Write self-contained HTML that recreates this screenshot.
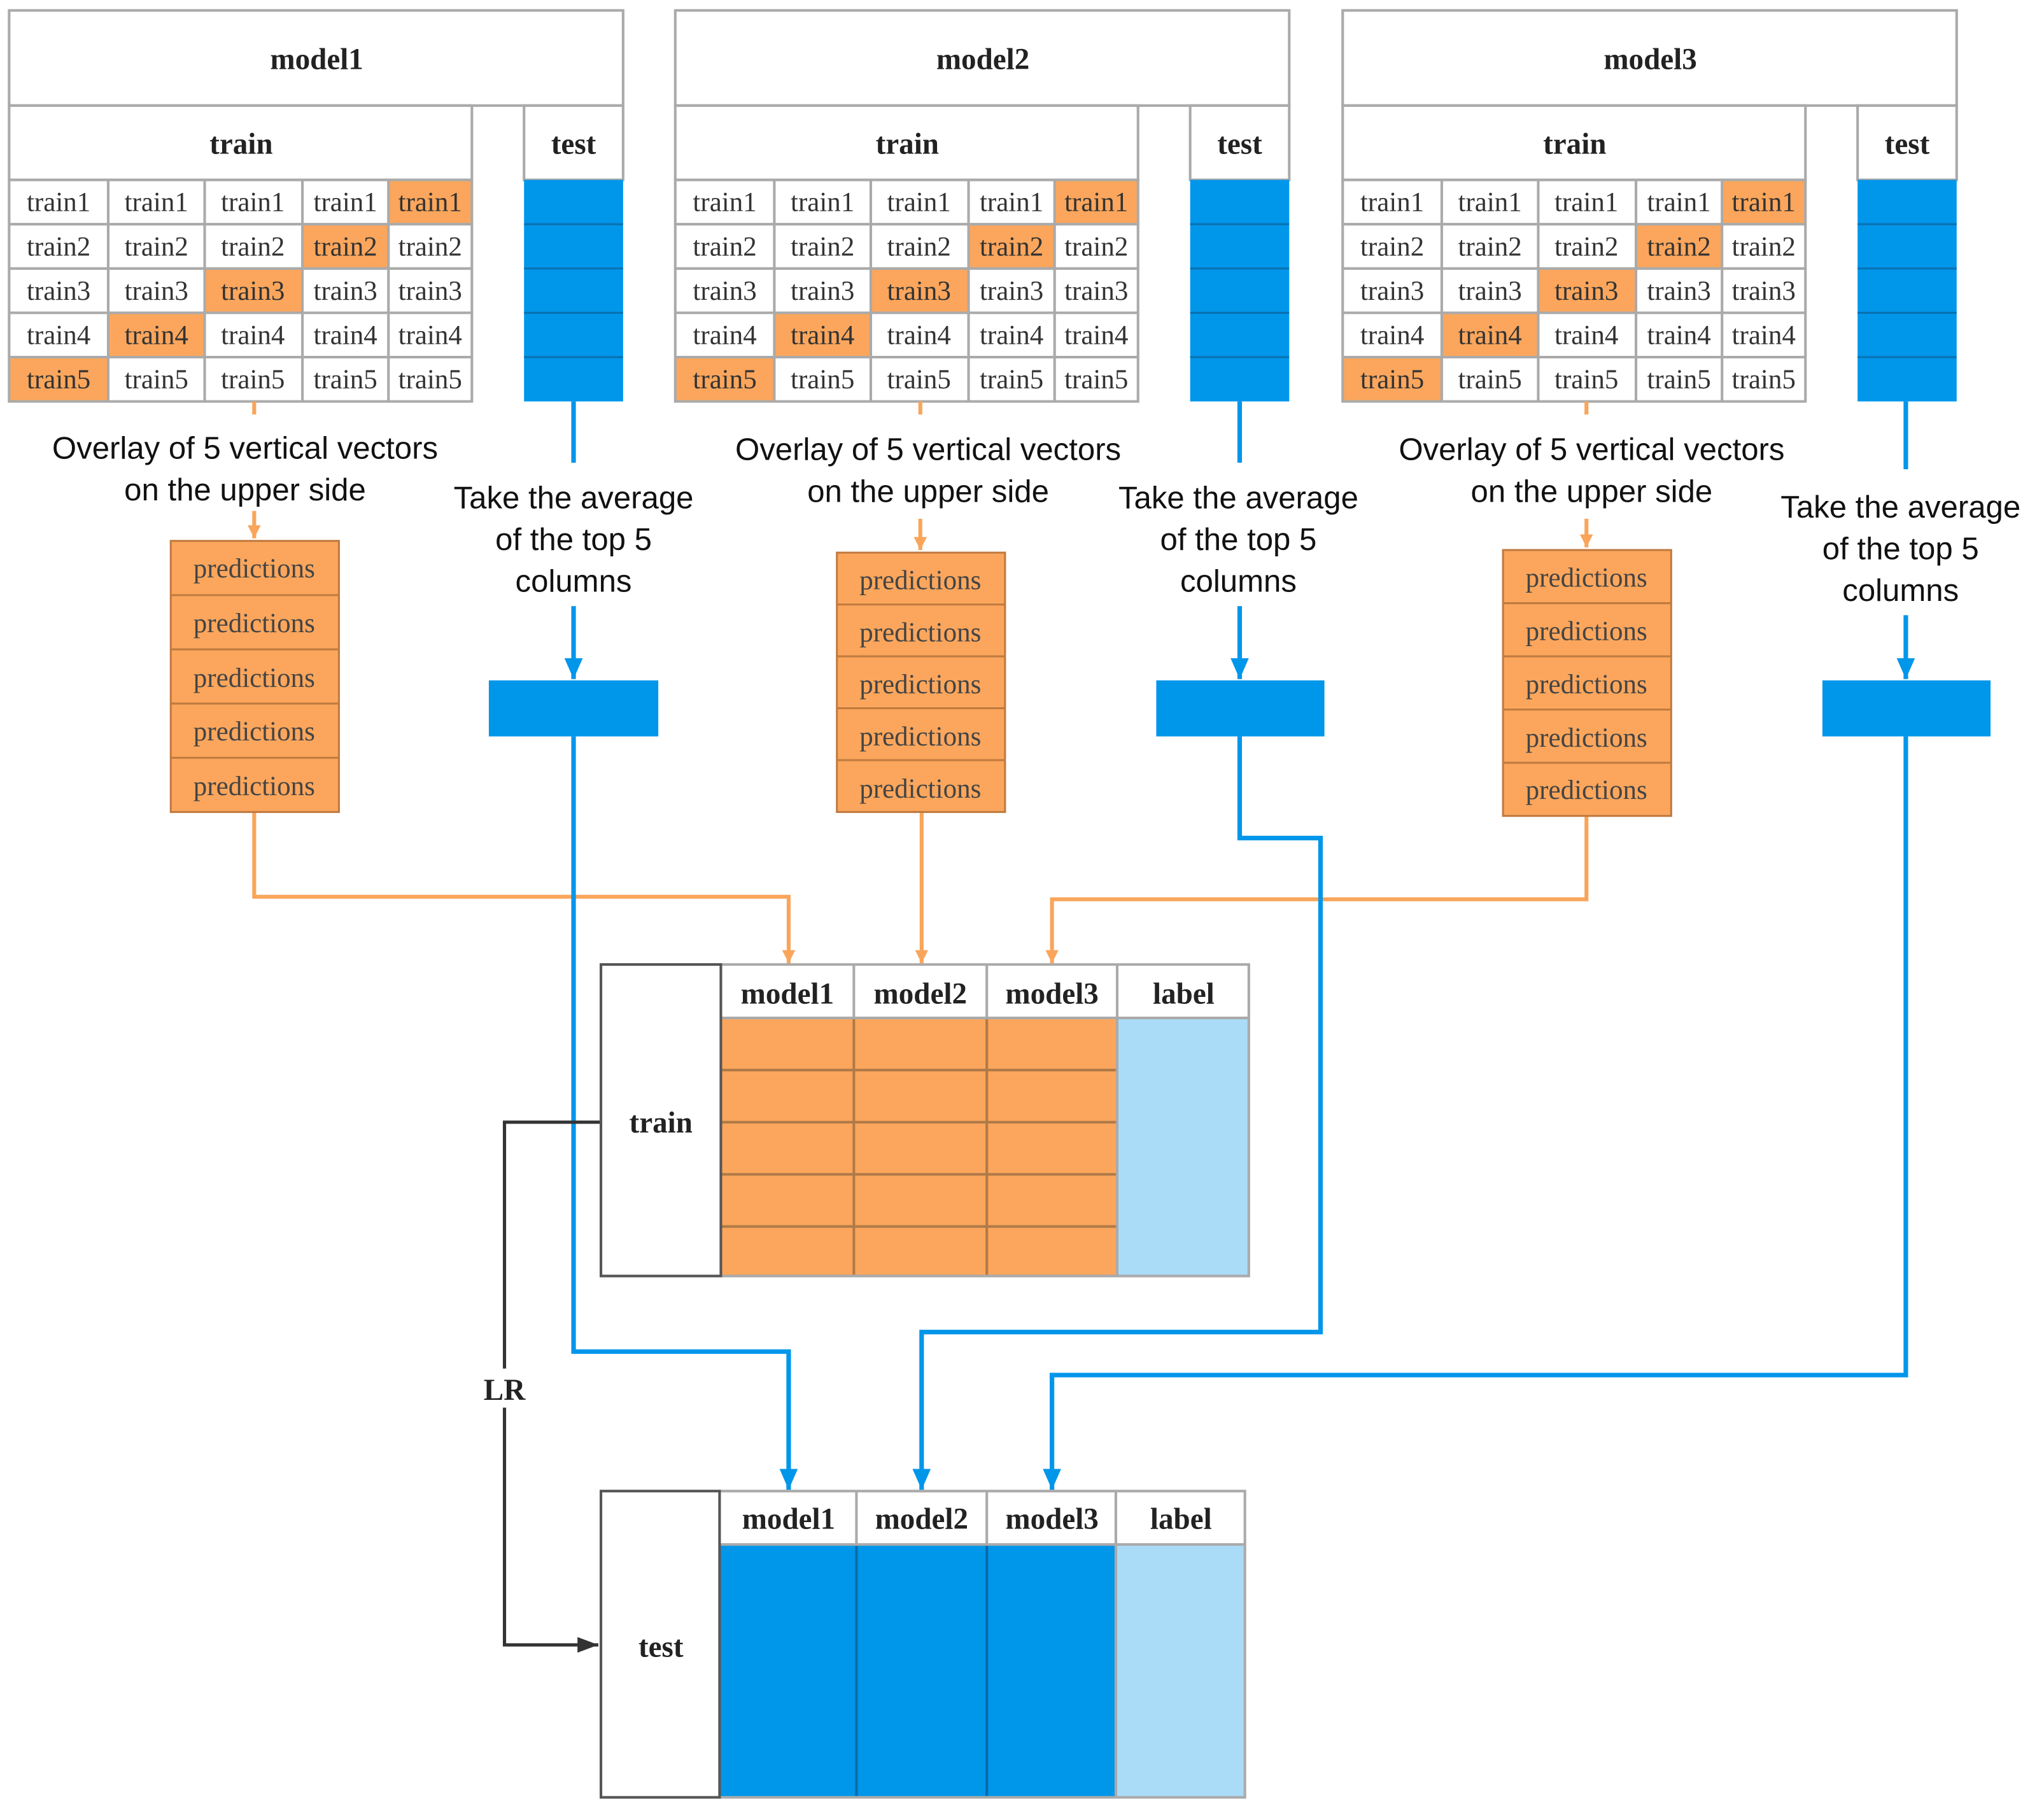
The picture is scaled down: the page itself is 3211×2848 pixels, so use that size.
<!DOCTYPE html>
<html><head><meta charset="utf-8"><style>
html,body{margin:0;padding:0;background:#fff;width:3211px;height:2848px;overflow:hidden}
svg{display:block}
.c{font-family:"Liberation Serif",serif;font-size:21px;fill:#333;text-anchor:middle}
.b{font-family:"Liberation Serif",serif;font-size:23px;font-weight:bold;fill:#222;text-anchor:middle}
.s{font-family:"Liberation Sans",sans-serif;font-size:24px;fill:#111;text-anchor:middle}
.p{font-family:"Liberation Serif",serif;font-size:21px;fill:#444;text-anchor:middle}
</style></head><body>
<svg width="3211" height="2848" viewBox="0 0 1568 1391" preserveAspectRatio="none" xmlns="http://www.w3.org/2000/svg">
<defs>
<marker id="ao" markerWidth="10" markerHeight="10" refX="10" refY="5" orient="auto" markerUnits="userSpaceOnUse" viewBox="0 0 10 10"><path d="M0,0 L10,5 L0,10z" fill="#f9a55b"/></marker>
<marker id="ab" markerWidth="16" markerHeight="14" refX="16" refY="7" orient="auto" markerUnits="userSpaceOnUse" viewBox="0 0 16 14"><path d="M0,0 L16,7 L0,14z" fill="#0096ea"/></marker>
<marker id="ak" markerWidth="16" markerHeight="12" refX="16" refY="6" orient="auto" markerUnits="userSpaceOnUse" viewBox="0 0 16 12"><path d="M0,0 L16,6 L0,12z" fill="#333"/></marker>
<g id="blk">
<rect x="7" y="8" width="471" height="73" fill="#fff" stroke="#aaa" stroke-width="2"/>
<rect x="7" y="81" width="355" height="57" fill="#fff" stroke="#aaa" stroke-width="2"/>
<rect x="402" y="81" width="76" height="57" fill="#fff" stroke="#aaa" stroke-width="2"/>
<rect x="402" y="138" width="76" height="170" fill="#0096ea"/>
<path d="M402,172H478M402,206H478M402,240H478M402,274H478" stroke="#0a70b0" stroke-width="1.5"/>
<rect x="298" y="138" width="64" height="34" fill="#fba65c"/>
<rect x="232" y="172" width="66" height="34" fill="#fba65c"/>
<rect x="157" y="206" width="75" height="34" fill="#fba65c"/>
<rect x="83" y="240" width="74" height="34" fill="#fba65c"/>
<rect x="7" y="274" width="76" height="34" fill="#fba65c"/>
<path d="M7,138H362V308H7Z M7,172H362M7,206H362M7,240H362M7,274H362M83,138V308M157,138V308M232,138V308M298,138V308" fill="none" stroke="#aaa" stroke-width="2"/>
</g>
</defs>

<g>
<use href="#blk"/>
<use href="#blk" transform="translate(511,0)"/>
<use href="#blk" transform="translate(1023,0)"/>
</g>
<g>
<text class="b" x="243" y="53">model1</text><text class="b" x="754" y="53">model2</text><text class="b" x="1266" y="53">model3</text>
<text class="b" x="185" y="118">train</text><text class="b" x="696" y="118">train</text><text class="b" x="1208" y="118">train</text>
<text class="b" x="440" y="118">test</text><text class="b" x="951" y="118">test</text><text class="b" x="1463" y="118">test</text>
</g>
<g class="c">
<text x="45" y="162">train1</text><text x="120" y="162">train1</text><text x="194" y="162">train1</text><text x="265" y="162">train1</text><text x="330" y="162">train1</text>
<text x="45" y="196">train2</text><text x="120" y="196">train2</text><text x="194" y="196">train2</text><text x="265" y="196">train2</text><text x="330" y="196">train2</text>
<text x="45" y="230">train3</text><text x="120" y="230">train3</text><text x="194" y="230">train3</text><text x="265" y="230">train3</text><text x="330" y="230">train3</text>
<text x="45" y="264">train4</text><text x="120" y="264">train4</text><text x="194" y="264">train4</text><text x="265" y="264">train4</text><text x="330" y="264">train4</text>
<text x="45" y="298">train5</text><text x="120" y="298">train5</text><text x="194" y="298">train5</text><text x="265" y="298">train5</text><text x="330" y="298">train5</text>
</g>
<g class="c" transform="translate(511,0)">
<text x="45" y="162">train1</text><text x="120" y="162">train1</text><text x="194" y="162">train1</text><text x="265" y="162">train1</text><text x="330" y="162">train1</text>
<text x="45" y="196">train2</text><text x="120" y="196">train2</text><text x="194" y="196">train2</text><text x="265" y="196">train2</text><text x="330" y="196">train2</text>
<text x="45" y="230">train3</text><text x="120" y="230">train3</text><text x="194" y="230">train3</text><text x="265" y="230">train3</text><text x="330" y="230">train3</text>
<text x="45" y="264">train4</text><text x="120" y="264">train4</text><text x="194" y="264">train4</text><text x="265" y="264">train4</text><text x="330" y="264">train4</text>
<text x="45" y="298">train5</text><text x="120" y="298">train5</text><text x="194" y="298">train5</text><text x="265" y="298">train5</text><text x="330" y="298">train5</text>
</g>
<g class="c" transform="translate(1023,0)">
<text x="45" y="162">train1</text><text x="120" y="162">train1</text><text x="194" y="162">train1</text><text x="265" y="162">train1</text><text x="330" y="162">train1</text>
<text x="45" y="196">train2</text><text x="120" y="196">train2</text><text x="194" y="196">train2</text><text x="265" y="196">train2</text><text x="330" y="196">train2</text>
<text x="45" y="230">train3</text><text x="120" y="230">train3</text><text x="194" y="230">train3</text><text x="265" y="230">train3</text><text x="330" y="230">train3</text>
<text x="45" y="264">train4</text><text x="120" y="264">train4</text><text x="194" y="264">train4</text><text x="265" y="264">train4</text><text x="330" y="264">train4</text>
<text x="45" y="298">train5</text><text x="120" y="298">train5</text><text x="194" y="298">train5</text><text x="265" y="298">train5</text><text x="330" y="298">train5</text>
</g>

<g class="s">
<text x="188" y="352">Overlay of 5 vertical vectors</text><text x="188" y="384">on the upper side</text>
<text x="712" y="353">Overlay of 5 vertical vectors</text><text x="712" y="385">on the upper side</text>
<text x="1221" y="353">Overlay of 5 vertical vectors</text><text x="1221" y="385">on the upper side</text>
<text x="440" y="390">Take the average</text><text x="440" y="422">of the top 5</text><text x="440" y="454">columns</text>
<text x="950" y="390">Take the average</text><text x="950" y="422">of the top 5</text><text x="950" y="454">columns</text>
<text x="1458" y="397">Take the average</text><text x="1458" y="429">of the top 5</text><text x="1458" y="461">columns</text>
</g>

<g stroke="#f9a55b" stroke-width="3" fill="none">
<path d="M195,308V318M706,308V318M1217,308V318"/>
<path d="M195,392V413" marker-end="url(#ao)"/>
<path d="M706,398V422" marker-end="url(#ao)"/>
<path d="M1217,398V420" marker-end="url(#ao)"/>
<path d="M195,623V688H605V739" marker-end="url(#ao)"/>
<path d="M707,623V739" marker-end="url(#ao)"/>
<path d="M1217,626V690H807V739" marker-end="url(#ao)"/>
</g>

<g stroke="#c07a40" stroke-width="1.5">
<rect x="131" y="415" width="129" height="208" fill="#fba65c"/>
<path d="M131,456.6H260M131,498.2H260M131,539.8H260M131,581.4H260"/>
<rect x="642" y="424" width="129" height="199" fill="#fba65c"/>
<path d="M642,463.8H771M642,503.6H771M642,543.4H771M642,583.2H771"/>
<rect x="1153" y="422" width="129" height="204" fill="#fba65c"/>
<path d="M1153,462.8H1282M1153,503.6H1282M1153,544.4H1282M1153,585.2H1282"/>
</g>
<g class="p">
<text x="195" y="443">predictions</text><text x="195" y="485">predictions</text><text x="195" y="527">predictions</text><text x="195" y="568">predictions</text><text x="195" y="610">predictions</text>
<text x="706" y="452">predictions</text><text x="706" y="492">predictions</text><text x="706" y="532">predictions</text><text x="706" y="572">predictions</text><text x="706" y="612">predictions</text>
<text x="1217" y="450">predictions</text><text x="1217" y="491">predictions</text><text x="1217" y="532">predictions</text><text x="1217" y="573">predictions</text><text x="1217" y="613">predictions</text>
</g>

<g stroke="#0096ea" stroke-width="3.5" fill="none">
<path d="M440,308V355M951,308V355M1462,308V360"/>
<path d="M440,465V521" marker-end="url(#ab)"/>
<path d="M951,465V521" marker-end="url(#ab)"/>
<path d="M1462,472V521" marker-end="url(#ab)"/>
<path d="M440,565V1037H605V1143" marker-end="url(#ab)"/>
<path d="M951,565V643H1013V1022H707V1143" marker-end="url(#ab)"/>
<path d="M1462,565V1055H807V1143" marker-end="url(#ab)"/>
</g>
<rect x="375" y="522" width="130" height="43" fill="#0096ea"/>
<rect x="887" y="522" width="129" height="43" fill="#0096ea"/>
<rect x="1398" y="522" width="129" height="43" fill="#0096ea"/>

<path d="M461,861H387V1262H459" stroke="#333" stroke-width="2.5" fill="none" marker-end="url(#ak)"/>
<rect x="368" y="1050" width="40" height="30" fill="#fff"/>
<text class="b" x="387" y="1074">LR</text>

<rect x="553" y="781" width="304" height="198" fill="#fba65c"/>
<rect x="857" y="781" width="101" height="198" fill="#aadcf8"/>
<path d="M553,821H857M553,861H857M553,901H857M553,941H857M655,781V979M757,781V979" stroke="#b07a48" stroke-width="2"/>
<path d="M553,740H958V979H553ZM553,781H958M655,740V781M757,740V781M857,740V979" fill="none" stroke="#aaa" stroke-width="2"/>
<rect x="461" y="740" width="92" height="239" fill="#fff" stroke="#555" stroke-width="2"/>
<text class="b" x="507" y="869">train</text>
<text class="b" x="604" y="770">model1</text><text class="b" x="706" y="770">model2</text><text class="b" x="807" y="770">model3</text><text class="b" x="908" y="770">label</text>

<rect x="552" y="1185" width="304" height="194" fill="#0096ea"/>
<rect x="856" y="1185" width="99" height="194" fill="#aadcf8"/>
<path d="M657,1185V1379M757,1185V1379" stroke="#0a6aa8" stroke-width="2"/>
<path d="M552,1144H955V1379H552ZM552,1185H955M657,1144V1185M757,1144V1185M856,1144V1379" fill="none" stroke="#aaa" stroke-width="2"/>
<rect x="461" y="1144" width="91" height="235" fill="#fff" stroke="#555" stroke-width="2"/>
<text class="b" x="507" y="1271">test</text>
<text class="b" x="605" y="1173">model1</text><text class="b" x="707" y="1173">model2</text><text class="b" x="807" y="1173">model3</text><text class="b" x="906" y="1173">label</text>
</svg>
</body></html>
